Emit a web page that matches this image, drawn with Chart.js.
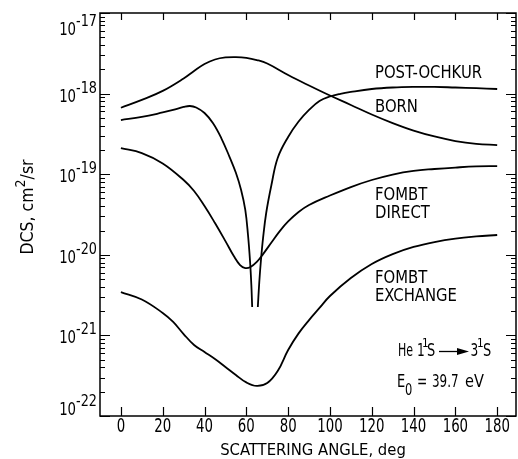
<!DOCTYPE html>
<html>
<head>
<meta charset="utf-8">
<script src="https://cdn.jsdelivr.net/npm/chart.js@4.4.0/dist/chart.umd.min.js"></script>
<style>
  body { margin: 0; background: #fff; }
</style>
</head>
<body>
<canvas id="dcs" width="518" height="459"></canvas>
<script>
// He 1^1S -> 3^1S, E0 = 39.7 eV. Angles in deg, DCS in cm^2/sr
const bornAngles = [0, 10, 20, 30, 35, 40, 45, 50, 55, 60, 65, 70, 80, 90, 100, 110, 120, 130, 140, 150, 160, 170, 180]
const bornDcs = [6.68e-19, 8.34e-19, 1.08e-18, 1.54e-18, 1.91e-18, 2.33e-18, 2.65e-18, 2.81e-18, 2.84e-18, 2.78e-18,
  2.61e-18, 2.36e-18, 1.70e-18, 1.26e-18, 9.46e-19, 7.23e-19, 5.51e-19, 4.31e-19, 3.48e-19, 2.94e-19, 2.58e-19,
  2.38e-19, 2.30e-19]

// null = the zero of the amplitude, the curve is broken there
const ochkurAngles = [0, 10, 20, 25, 30, 33, 36, 40, 44, 48, 52, 55, 57.5, 59.5, 60.8, 61.8, 62.4, 62.8, 64,
  65.5, 66.2, 67, 68, 69.5, 72, 75, 80, 85, 90, 95, 100, 105, 110, 120, 130, 140, 150, 160, 170, 180]
const ochkurDcs = [4.70e-19, 5.13e-19, 5.83e-19, 6.27e-19, 6.82e-19, 7.02e-19, 6.72e-19, 5.74e-19, 4.31e-19, 2.81e-19,
  1.63e-19, 1.04e-19, 6.37e-20, 3.60e-20, 1.76e-20, 8.15e-21, 4.22e-21, 2.25e-21, null,
  2.25e-21, 4.60e-21, 8.61e-21, 1.61e-20, 3.30e-20, 7.34e-20, 1.59e-19, 2.90e-19, 4.51e-19, 6.27e-19, 8.09e-19,
  9.20e-19, 9.95e-19, 1.05e-18, 1.14e-18, 1.19e-18, 1.21e-18, 1.21e-18, 1.19e-18, 1.17e-18, 1.14e-18]

const directAngles = [0, 10, 20, 30, 35, 40, 45, 50, 54, 57, 59.5, 62, 65, 68, 72, 76, 80, 85, 90, 100, 110, 120,
  130, 140, 150, 160, 170, 180]
const directDcs = [2.11e-19, 1.83e-19, 1.36e-19, 8.47e-20, 6.19e-20, 4.03e-20, 2.48e-20, 1.48e-20, 9.66e-21, 7.47e-21,
  6.85e-21, 7.06e-21, 8.15e-21, 1.02e-20, 1.42e-20, 1.97e-20, 2.59e-20, 3.40e-20, 4.15e-20, 5.44e-20, 6.93e-20,
  8.47e-20, 9.91e-20, 1.10e-19, 1.16e-19, 1.21e-19, 1.25e-19, 1.26e-19]

const exchangeAngles = [0, 10, 20, 25, 30, 35, 40, 45, 50, 55, 60, 65, 70, 75, 80, 85, 90, 95, 100, 110, 120, 130,
  140, 150, 160, 170, 180]
const exchangeDcs = [3.45e-21, 2.79e-21, 1.90e-21, 1.47e-21, 1.04e-21, 7.60e-22, 6.22e-22, 5.09e-22, 4.06e-22, 3.23e-22,
  2.61e-22, 2.36e-22, 2.56e-22, 3.61e-22, 6.59e-22, 1.06e-21, 1.55e-21, 2.19e-21, 3.08e-21, 5.15e-21, 7.69e-21,
  1.02e-20, 1.25e-20, 1.44e-20, 1.59e-20, 1.69e-20, 1.76e-20]

const xTicks = [0, 20, 40, 60, 80, 100, 120, 140, 160, 180]
const decades = [-22, -21, -20, -19, -18, -17]

const FONT = '"DejaVu Sans Condensed", "DejaVu Sans", sans-serif'

function toPoints(angles, values) {
  return angles.map((a, i) => ({ x: a, y: values[i] }))
}

// text squeezed horizontally by sx, the original lettering is very narrow
function txt(ctx, t, x, y, size, sx = 1, align = 'left') {
  ctx.save()
  ctx.font = `${size}px ${FONT}`
  const w = ctx.measureText(t).width * sx
  const lx = align === 'center' ? x - w / 2 : align === 'right' ? x - w : x
  ctx.translate(lx, y)
  ctx.scale(sx, 1)
  ctx.textAlign = 'left'
  ctx.fillText(t, 0, 0)
  ctx.restore()
  return lx + w
}
function txtWidth(ctx, t, size, sx = 1) {
  ctx.font = `${size}px ${FONT}`
  return ctx.measureText(t).width * sx
}

const framePlugin = {
  id: 'frame',
  afterDraw(chart) {
    const ctx = chart.ctx
    const area = chart.chartArea
    const xs = chart.scales.x
    const ys = chart.scales.y
    ctx.save()
    ctx.strokeStyle = '#000'
    ctx.fillStyle = '#000'
    ctx.lineWidth = 1.5
    ctx.strokeRect(area.left, area.top, area.right - area.left, area.bottom - area.top)

    // inward ticks, x
    ctx.lineWidth = 1.2
    ctx.beginPath()
    xTicks.forEach(v => {
      const px = Math.round(xs.getPixelForValue(v)) + 0.5
      ctx.moveTo(px, area.bottom); ctx.lineTo(px, area.bottom - 9)
      ctx.moveTo(px, area.top); ctx.lineTo(px, area.top + 7)
    })
    // inward ticks, y (decades and 2..9)
    decades.forEach(d => {
      for (let m = 1; m <= 9; m++) {
        const v = m * Math.pow(10, d)
        if (v > ys.max * 1.0001) continue
        const py = Math.round(ys.getPixelForValue(v)) + 0.5
        const len = m === 1 ? 10 : 5
        ctx.moveTo(area.left, py); ctx.lineTo(area.left + len, py)
        ctx.moveTo(area.right, py); ctx.lineTo(area.right - len, py)
      }
    })
    ctx.stroke()

    // x tick labels
    ctx.textBaseline = 'alphabetic'
    xTicks.forEach(v => {
      txt(ctx, String(v), xs.getPixelForValue(v), 432, 19.5, 0.76, 'center')
    })

    // y tick labels 10^n
    decades.forEach(d => {
      let base = ys.getPixelForValue(Math.pow(10, d)) + 8
      if (d === -17) base += 14
      if (d === -22) base -= 9
      const sup = '-' + Math.abs(d)
      const supW = txtWidth(ctx, sup, 15, 0.95)
      const tenW = txtWidth(ctx, '10', 18, 0.82)
      txt(ctx, '10', 97 - supW - tenW, base, 18, 0.82)
      txt(ctx, sup, 97 - supW, base - 9, 15, 0.95)
    })

    // x title
    txt(ctx, 'SCATTERING ANGLE, deg', 313, 455, 16.5, 1, 'center')

    // y title, rotated
    ctx.save()
    ctx.translate(33, 207)
    ctx.rotate(-Math.PI / 2)
    const w1 = txtWidth(ctx, 'DCS, cm', 17.5)
    const w2 = txtWidth(ctx, '2', 14)
    const w3 = txtWidth(ctx, '/sr', 17.5)
    let cx = -(w1 + w2 + w3) / 2
    cx = txt(ctx, 'DCS, cm', cx, 0, 17.5)
    cx = txt(ctx, '2', cx, -8, 14)
    txt(ctx, '/sr', cx, 0, 17.5)
    ctx.restore()

    // curve labels
    txt(ctx, 'POST-OCHKUR', 375, 78, 17, 0.97)
    txt(ctx, 'BORN', 375, 112, 17, 0.97)
    txt(ctx, 'FOMBT', 375, 200, 17, 0.97)
    txt(ctx, 'DIRECT', 375, 218, 17, 0.97)
    txt(ctx, 'FOMBT', 375, 283, 17, 0.97)
    txt(ctx, 'EXCHANGE', 375, 301, 17, 0.97)

    // transition label
    txt(ctx, 'He', 398, 356, 18, 0.68)
    txt(ctx, '1', 417, 356, 18, 0.75)
    txt(ctx, '1', 422, 347, 13, 0.9)
    txt(ctx, 'S', 427, 356, 18, 0.8)
    ctx.lineWidth = 1.3
    ctx.beginPath()
    ctx.moveTo(439, 351.5); ctx.lineTo(460, 351.5)
    ctx.stroke()
    ctx.beginPath()
    ctx.moveTo(469, 351.5); ctx.lineTo(457, 348); ctx.lineTo(457, 355)
    ctx.closePath(); ctx.fill()
    txt(ctx, '3', 470.5, 356, 18, 0.75)
    txt(ctx, '1', 477, 347, 13, 0.9)
    txt(ctx, 'S', 483, 356, 18, 0.8)

    txt(ctx, 'E', 397, 387, 17, 0.85)
    txt(ctx, '0', 405, 395, 15, 0.85)
    txt(ctx, '=', 417, 387, 17, 0.8)
    txt(ctx, '39.7', 432, 387, 17, 0.78)
    txt(ctx, 'eV', 465, 387, 17, 0.95)
    ctx.restore()
  }
}

const lineStyle = {
  borderColor: '#000',
  borderWidth: 1.8,
  pointRadius: 0,
  fill: false,
  spanGaps: false,
  tension: 0.4
}

new Chart(document.getElementById('dcs'), {
  type: 'line',
  data: {
    datasets: [
      { label: 'BORN', data: toPoints(bornAngles, bornDcs), ...lineStyle },
      { label: 'POST-OCHKUR', data: toPoints(ochkurAngles, ochkurDcs), ...lineStyle },
      { label: 'FOMBT DIRECT', data: toPoints(directAngles, directDcs), ...lineStyle },
      { label: 'FOMBT EXCHANGE', data: toPoints(exchangeAngles, exchangeDcs), ...lineStyle }
    ]
  },
  options: {
    responsive: false,
    devicePixelRatio: 1,
    animation: false,
    layout: { padding: { top: 13, right: 2, left: 0, bottom: 0 } },
    plugins: {
      legend: { display: false },
      tooltip: { enabled: false }
    },
    scales: {
      x: {
        type: 'linear',
        min: -10,
        max: 189,
        grid: { display: false },
        border: { display: false },
        ticks: { display: false },
        afterFit: scale => { scale.height = 43 }
      },
      y: {
        type: 'logarithmic',
        min: 1e-22,
        max: 1e-17,
        grid: { display: false },
        border: { display: false },
        ticks: { display: false },
        afterFit: scale => { scale.width = 100 }
      }
    }
  },
  plugins: [framePlugin]
})
</script>
</body>
</html>
